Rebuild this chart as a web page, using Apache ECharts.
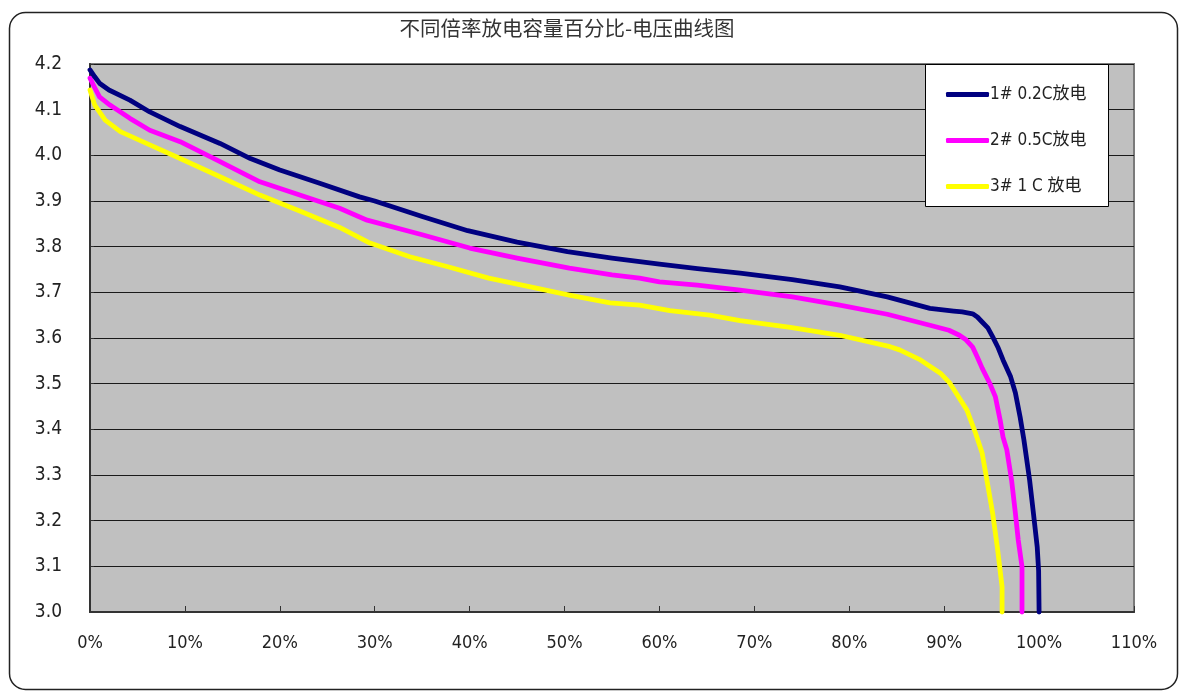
<!DOCTYPE html>
<html>
<head>
<meta charset="utf-8">
<script src="https://cdn.jsdelivr.net/npm/echarts@6/dist/echarts.min.js"></script>
<style>html,body{margin:0;padding:0;background:#fff}#c{width:1179px;height:691px}</style>
</head>
<body>
<div id="c"></div>
<script>
const titleText = '不同倍率放电容量百分比-电压曲线图';
const seriesNames = ['1# 0.2C放电', '2# 0.5C放电', '3# 1 C 放电'];

const s1X = [0, 0.5, 1, 2, 4.2, 6.3, 9.5, 13.7, 16.9, 20, 24.2, 28.4, 30, 35, 39.8, 45, 50.3, 55, 60, 64, 68.5, 74, 79, 84, 88.5, 91, 91.9, 93, 93.5, 94, 94.6, 95.1, 95.7, 96.2, 97, 97.5, 98, 98.4, 98.7, 99, 99.4, 99.8, 99.95, 100];
const s1Y = [4.187, 4.172, 4.158, 4.143, 4.121, 4.095, 4.063, 4.026, 3.993, 3.968, 3.939, 3.909, 3.9, 3.866, 3.835, 3.81, 3.789, 3.775, 3.762, 3.752, 3.742, 3.728, 3.712, 3.69, 3.665, 3.659, 3.657, 3.653, 3.646, 3.635, 3.622, 3.603, 3.578, 3.552, 3.515, 3.48, 3.427, 3.377, 3.333, 3.289, 3.217, 3.143, 3.09, 3.0];

const s2X = [0, 0.5, 1, 2.1, 4.2, 6.3, 9.5, 13.7, 17.9, 22.1, 26.3, 29.2, 35, 40, 45, 50.5, 55, 57.9, 60, 64, 68.5, 74, 79, 84, 88.5, 90.5, 91.6, 92.3, 93, 93.5, 94, 94.8, 95.4, 95.9, 96.2, 96.6, 97.1, 97.5, 97.8, 98.2, 98.2];
const s2Y = [4.169, 4.148, 4.128, 4.11, 4.081, 4.055, 4.03, 3.986, 3.942, 3.913, 3.884, 3.858, 3.826, 3.797, 3.775, 3.753, 3.738, 3.731, 3.723, 3.716, 3.705, 3.69, 3.672, 3.652, 3.628, 3.617, 3.606, 3.596, 3.58, 3.558, 3.534, 3.501, 3.471, 3.42, 3.383, 3.355, 3.289, 3.217, 3.158, 3.099, 3.0];

const s3X = [0, 0.5, 1.6, 3.2, 6.3, 9.5, 13.7, 17.9, 22.1, 26.3, 29.5, 33.7, 37.9, 42, 46.4, 50.5, 54.8, 57.9, 61.1, 65.3, 68.5, 73.8, 79, 84.3, 85.3, 87.5, 89.6, 90.6, 92.4, 93.3, 94, 94.5, 95.1, 95.6, 96.1, 96.1];
const s3Y = [4.143, 4.11, 4.077, 4.052, 4.023, 3.993, 3.953, 3.913, 3.878, 3.842, 3.808, 3.778, 3.755, 3.731, 3.712, 3.694, 3.677, 3.672, 3.66, 3.65, 3.638, 3.623, 3.606, 3.581, 3.574, 3.552, 3.523, 3.501, 3.442, 3.392, 3.348, 3.289, 3.217, 3.142, 3.055, 3.0];

const xMin = 0, xMax = 110, xStep = 10;
const yMin = 3.0, yMax = 4.2, yStep = 0.1;

const colors = ['#000080', '#FF00FF', '#FFFF00'];
const pair = (xs, ys) => xs.map((x, i) => [x, ys[i]]);
const allData = [pair(s1X, s1Y), pair(s2X, s2Y), pair(s3X, s3Y)];

const narrow = "'Liberation Sans Narrow','DejaVu Sans Condensed','Noto Sans CJK SC',sans-serif";

const chart = echarts.init(document.getElementById('c'), null, {renderer: 'canvas'});
chart.setOption({
  animation: false,
  backgroundColor: '#ffffff',
  graphic: [
    {type: 'rect', z: 0, silent: true,
     shape: {x: 9.5, y: 12.5, width: 1168, height: 677, r: 16},
     style: {fill: null, stroke: '#222', lineWidth: 1.5}},
    {type: 'text', z: 5, silent: true, x: 567, y: 28,
     style: {text: titleText, textAlign: 'center', textVerticalAlign: 'middle',
             font: "normal 20.5px 'Noto Sans CJK SC', sans-serif", fill: '#333'}},
    {type: 'rect', z: 50, silent: true,
     shape: {x: 925.5, y: 64.5, width: 183, height: 142},
     style: {fill: '#ffffff', stroke: '#000', lineWidth: 1}}
  ],
  legend: {
    z: 60, orient: 'vertical', left: 941, top: 81,
    itemWidth: 43, itemHeight: 5, itemGap: 29, icon: 'roundRect',
    textStyle: {fontFamily: narrow, fontSize: 17, color: '#222', padding: [0, 0, 0, -4]},
    data: seriesNames
  },
  grid: {
    left: 90, top: 64, right: 45, bottom: 79, show: true,
    backgroundColor: '#c0c0c0', borderColor: '#7a7a7a', borderWidth: 2
  },
  xAxis: {
    type: 'value', min: xMin, max: xMax, interval: xStep,
    axisLine: {show: true, lineStyle: {color: '#333', width: 2}},
    axisTick: {show: true, inside: true, length: 6, lineStyle: {color: '#333'}},
    splitLine: {show: false},
    axisLabel: {margin: 22, fontFamily: narrow, fontSize: 18, color: '#222', formatter: v => v + '%'}
  },
  yAxis: {
    type: 'value', min: yMin, max: yMax, interval: yStep,
    axisLine: {show: true, lineStyle: {color: '#333', width: 2}},
    axisTick: {show: true, inside: true, length: 4, lineStyle: {color: '#333'}},
    splitLine: {show: true, lineStyle: {color: '#1a1a1a', width: 1}},
    axisLabel: {margin: 28, fontFamily: narrow, fontSize: 19, color: '#222', formatter: v => v.toFixed(1)}
  },
  series: allData.map((d, i) => ({
    name: seriesNames[i], type: 'line', data: d, showSymbol: false, symbol: 'none',
    smooth: false, clip: false, z: 3 + (2 - i),
    lineStyle: {color: colors[i], width: 4.8, join: 'round', cap: 'round'},
    itemStyle: {color: colors[i]}
  }))
});
</script>
</body>
</html>
